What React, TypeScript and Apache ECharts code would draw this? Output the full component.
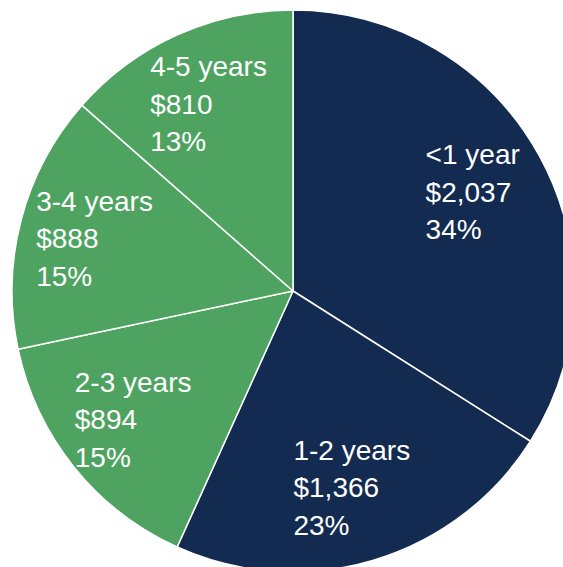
import React, { useEffect, useRef } from "react";
import * as echarts from "echarts";

const categories = ["<1 year", "1-2 years", "2-3 years", "3-4 years", "4-5 years"];
const amounts = [2037, 1366, 894, 888, 810];
const colors = ["#132b50", "#132b50", "#4da35f", "#4da35f", "#4da35f"];

const CX = 293;
const CY = 291;
const R = 281;

export default function App() {
  const ref = useRef<HTMLDivElement>(null);
  useEffect(() => {
    if (!ref.current) return;
    const chart = echarts.init(ref.current, null, { renderer: "svg" });
    const total = amounts.reduce((s, v) => s + v, 0);
    const mids: number[] = [];
    let acc = 0;
    amounts.forEach((v) => {
      mids.push(((acc + v / 2) / total) * Math.PI * 2);
      acc += v;
    });
    chart.setOption({
      animation: false,
      series: [
        {
          type: "pie",
          center: [CX, CY],
          radius: [0, R],
          startAngle: 90,
          clockwise: true,
          percentPrecision: 0,
          itemStyle: { borderColor: "#ffffff", borderWidth: 1.5 },
          label: {
            show: true,
            position: "inside",
            color: "#ffffff",
            fontFamily: "Liberation Sans, Arial, sans-serif",
            fontSize: 28,
            lineHeight: 37.5,
            align: "left",
            formatter: (p: any) =>
              `${p.name}\n$${p.value.toLocaleString("en-US")}\n${p.percent}%`,
          },
          labelLine: { show: false },
          labelLayout: (params: any) => {
            const a = mids[params.dataIndex];
            const cx = CX + 0.73 * R * Math.sin(a);
            const cy = CY - 0.73 * R * Math.cos(a);
            return {
              x: cx - params.labelRect.width / 2,
              y: cy,
              align: "left",
              verticalAlign: "middle",
            };
          },
          data: categories.map((c, i) => ({
            name: c,
            value: amounts[i],
            itemStyle: { color: colors[i] },
          })),
        },
      ],
    });
    return () => chart.dispose();
  }, []);
  return (
    <div
      ref={ref}
      style={{ position: "absolute", left: 0, top: 0, width: 563, height: 567 }}
    />
  );
}
